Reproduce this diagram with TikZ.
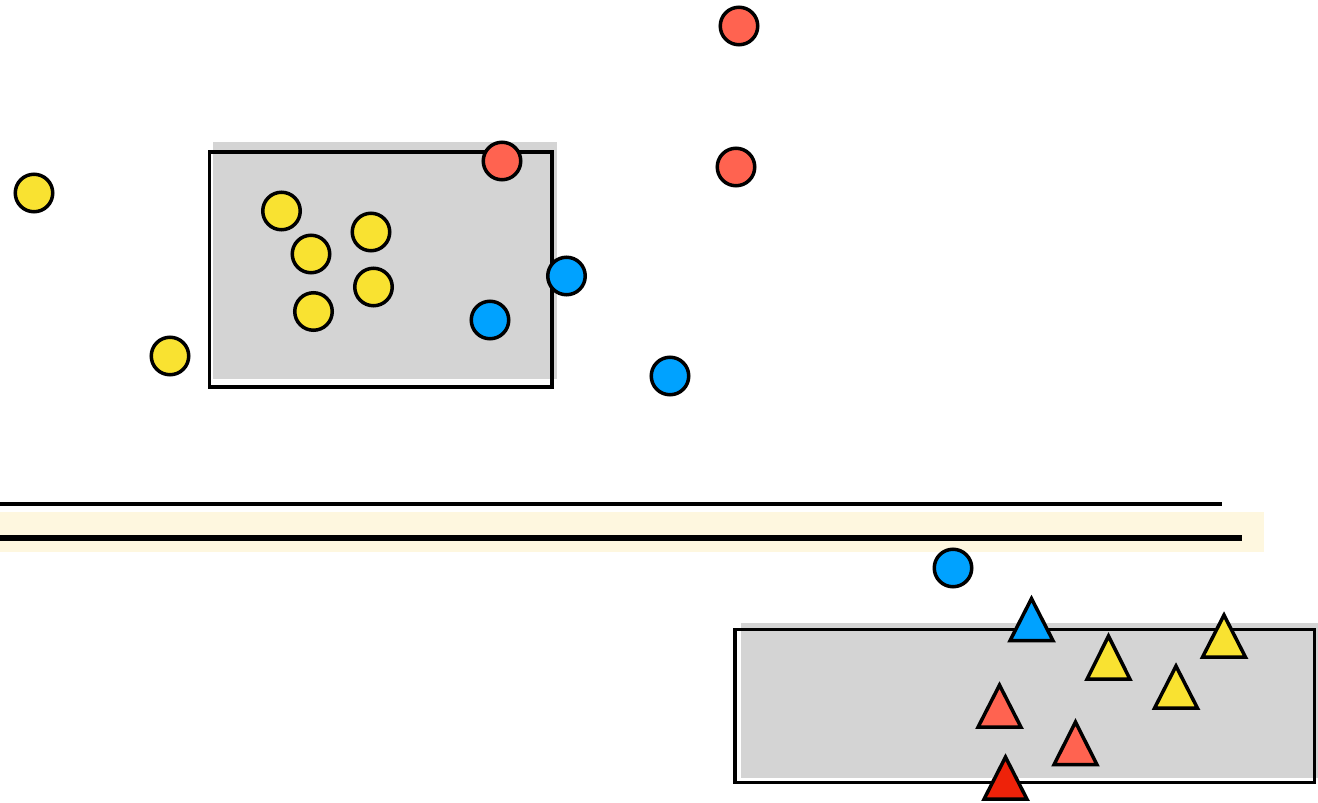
\documentclass[tikz,border=0pt]{standalone}
\usetikzlibrary{shapes.geometric}
\definecolor{cyel}{HTML}{F9E231}
\definecolor{cred}{HTML}{FF6350}
\definecolor{cblue}{HTML}{00A2FF}
\definecolor{cdred}{HTML}{EE2209}
\definecolor{cgray}{HTML}{D4D4D4}
\definecolor{ccream}{HTML}{FEF7DF}
\begin{document}
\begin{tikzpicture}[x=1pt,y=-1pt,
  dot/.style={circle,draw=black,line width=3.5pt,minimum size=37.5pt,inner sep=0pt},
  ydot/.style={dot,fill=cyel},
  rdot/.style={dot,fill=cred},
  bdot/.style={dot,fill=cblue},
  tri/.style={draw=black,line width=3.5pt,miter limit=10,line join=miter},
  frame/.style={draw=black,line width=3.5pt}]
\useasboundingbox (0,0) rectangle (1318,803);
% top-left box
\fill[cgray] (213,142) rectangle (557,379);
\draw[frame] (209.5,152) rectangle (552,387);
% lines
\fill[ccream] (0,512) rectangle (1264,552);
\draw[line width=4pt] (0,503.5) -- (1222,503.5);
\draw[line width=6pt] (0,538) -- (1242,538);
% bottom-right box
\fill[cgray] (741,623) rectangle (1318,778);
\draw[frame] (735,629.5) rectangle (1314.5,782.5);
% circles
\node[ydot] (y1) at (34,193) {};
\node[ydot] (y2) at (170,356) {};
\node[ydot] (y3) at (281.5,211) {};
\node[ydot] (y4) at (311,254) {};
\node[ydot] (y5) at (371,232) {};
\node[ydot] (y6) at (373.5,287) {};
\node[ydot] (y7) at (313.5,311.5) {};
\node[rdot] (r1) at (502,161) {};
\node[rdot] (r2) at (739,26) {};
\node[rdot] (r3) at (736,167) {};
\node[bdot] (b1) at (566.5,276) {};
\node[bdot] (b2) at (490,320) {};
\node[bdot] (b3) at (670,376) {};
\node[bdot] (b4) at (953,568) {};
% triangles: apex x, apex y, base y
\newcommand\mytri[4]{\draw[tri,fill=#1] (#2,#3+3.6) -- (#2+21.5,#4-1.8) -- (#2-21.5,#4-1.8) -- cycle;}
\mytri{cblue}{1031.5}{595}{642.5}
\mytri{cyel}{1108.5}{632.5}{681}
\mytri{cyel}{1224}{611.5}{659}
\mytri{cyel}{1176}{662.5}{710}
\mytri{cred}{999.5}{681.5}{729}
\mytri{cred}{1075.5}{718.5}{766.5}
\mytri{cdred}{1005.5}{753.5}{801}
\end{tikzpicture}
\end{document}
